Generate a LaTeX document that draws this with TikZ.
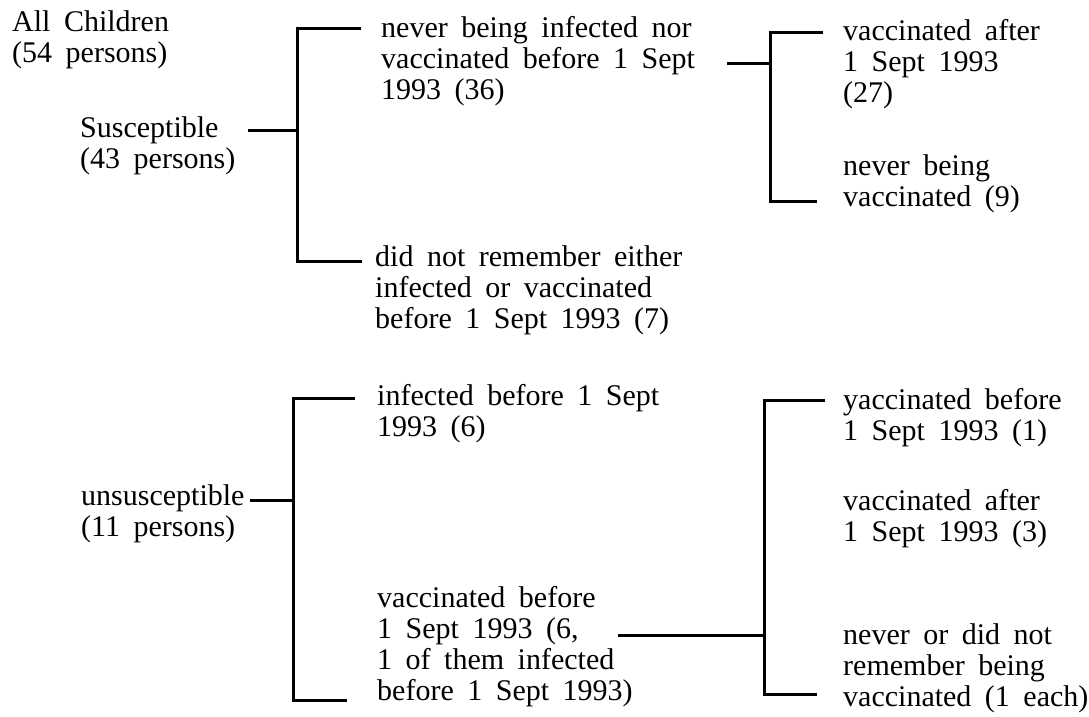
\documentclass[tikz,border=0pt]{standalone}
\usepackage{fontspec}
\setmainfont{Liberation Serif}[WordSpace=1.8]
\newcommand{\lines}[1]{\parbox[t]{12cm}{\raggedright #1}}
\tikzset{
  lbl/.style={anchor=base west, inner sep=0pt, font=\fontsize{30}{31}\selectfont},
  br/.style={line width=3pt}
}
\begin{document}
\begin{tikzpicture}[x=1pt,y=-1pt]
\useasboundingbox (0,0) rectangle (1089,716);
% texts
\node[lbl] (allc) at (12,31) {\lines{All Children\\(54 persons)}};
\node[lbl] (sus) at (80,137) {\lines{Susceptible\\(43 persons)}};
\node[lbl] (n36) at (381,37) {\lines{never being infected nor\\vaccinated before 1 Sept\\1993 (36)}};
\node[lbl] (n7) at (375,266) {\lines{did not remember either\\infected or vaccinated\\before 1 Sept 1993 (7)}};
\node[lbl] (v27) at (843,40) {\lines{vaccinated after\\1 Sept 1993\\(27)}};
\node[lbl] (nv9) at (843,175) {\lines{never being\\vaccinated (9)}};
\node[lbl] (uns) at (81,505) {\lines{unsusceptible\\(11 persons)}};
\node[lbl] (i6) at (377,405) {\lines{infected before 1 Sept\\1993 (6)}};
\node[lbl] (vb6) at (377,607) {\lines{vaccinated before\\1 Sept 1993 (6,\\1 of them infected\\before 1 Sept 1993)}};
\node[lbl] (vb1) at (843,409) {\lines{yaccinated before\\1 Sept 1993 (1)}};
\node[lbl] (va3) at (843,510) {\lines{vaccinated after\\1 Sept 1993 (3)}};
\node[lbl] (nr1) at (843,644) {\lines{never or did not\\remember being\\vaccinated (1 each)}};
% bracket coordinates
\coordinate (s1a) at (248,130);
\coordinate (b1m) at (297,130);
\coordinate (b1t) at (297,28);
\coordinate (b1b) at (297,261);
\coordinate (b1te) at (361,28);
\coordinate (b1be) at (362,261);
\coordinate (s2a) at (727,63);
\coordinate (b2m) at (770,63);
\coordinate (b2t) at (770,32);
\coordinate (b2b) at (770,201);
\coordinate (b2te) at (823,32);
\coordinate (b2be) at (817,201);
\coordinate (s3a) at (250,500);
\coordinate (b3m) at (293,500);
\coordinate (b3t) at (293,398);
\coordinate (b3b) at (293,700);
\coordinate (b3te) at (355,398);
\coordinate (b3be) at (347,700);
\coordinate (s4a) at (618,635);
\coordinate (b4m) at (764,635);
\coordinate (b4t) at (764,400);
\coordinate (b4b) at (764,694);
\coordinate (b4te) at (825,400);
\coordinate (b4be) at (817,694);
% connectors
\draw[br] (s1a) -- (b1m);
\draw[br] (b1te) -- (b1t) -- (b1b) -- (b1be);
\draw[br] (s2a) -- (b2m);
\draw[br] (b2te) -- (b2t) -- (b2b) -- (b2be);
\draw[br] (s3a) -- (b3m);
\draw[br] (b3te) -- (b3t) -- (b3b) -- (b3be);
\draw[br] (s4a) -- (b4m);
\draw[br] (b4te) -- (b4t) -- (b4b) -- (b4be);
\end{tikzpicture}
\end{document}
